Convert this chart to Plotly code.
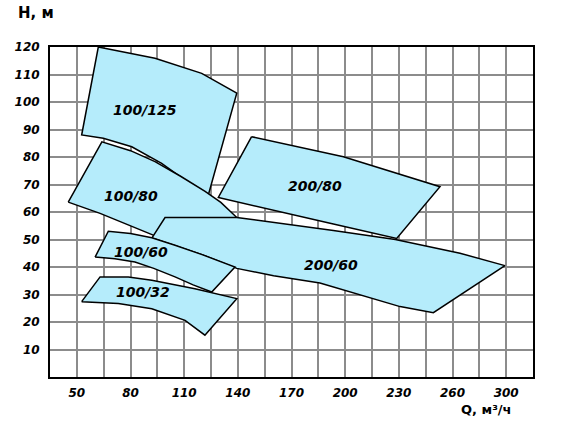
import plotly.graph_objects as go

# ---- data (Q in m3/h, H in m) ----
names = ["100/125", "100/80", "200/80", "200/60", "100/60", "100/32"]

q_100_125 = [62, 93.7, 119.8, 139.4, 123.5, 110.5, 97.4, 80.7, 64.8, 52.7]
h_100_125 = [120, 115.9, 110.4, 103.2, 66.2, 71.6, 77.7, 83.7, 86.8, 88.0]

q_100_80 = [45.2, 64, 80, 93.7, 108, 121.7, 130.5, 139.4, 142, 115, 92.7, 63.0]
h_100_80 = [63.6, 85.5, 82.3, 78.3, 73.0, 67.5, 63.5, 58.0, 57.0, 47.0, 51.6, 59.5]

q_200_80 = [147.7, 199, 253, 228.8, 193.4, 129.1]
h_200_80 = [87.4, 80.1, 69.2, 50.4, 55.6, 65.3]

q_200_60 = [92, 99.3, 139.4, 193.4, 228, 264.2, 289.3, 249.3, 230.7, 202.7, 185.9, 160, 139.4, 120, 104.9]
h_200_60 = [50.6, 58.0, 58.0, 53.3, 50.0, 45.0, 40.5, 23.4, 25.6, 31.0, 34.2, 36.8, 39.5, 44.5, 47.9]

q_100_60 = [60.2, 67.6, 80, 91.9, 104.9, 120, 138.4, 125.4, 115, 104.9, 93, 82.5, 71.3]
h_100_60 = [43.6, 53.0, 52.2, 50.6, 47.9, 44.5, 40.0, 30.9, 33.5, 36.4, 39.5, 41.8, 43.0]

q_100_32 = [52.7, 63.0, 78.8, 91.9, 116, 139.4, 121.6, 110.5, 91.9, 73.2]
h_100_32 = [27.4, 36.4, 36.4, 35.2, 32.1, 28.5, 15.2, 20.6, 24.8, 26.7]

label_q = [88, 80, 183, 192, 86, 87]
label_h = [97, 66, 69.5, 40.7, 45.5, 31]

x_tickvals = [50, 80, 110, 140, 170, 200, 230, 260, 290]
x_ticktext = ["50", "80", "110", "140", "170", "200", "230", "260", "300"]
y_tickvals = [10, 20, 30, 40, 50, 60, 70, 80, 90, 100, 110, 120]
y_ticktext = [str(v) for v in y_tickvals]

polys = [
    (q_100_125, h_100_125),
    (q_100_80, h_100_80),
    (q_200_80, h_200_80),
    (q_200_60, h_200_60),
    (q_100_60, h_100_60),
    (q_100_32, h_100_32),
]

FILL = "#b5ecfb"
FONT = "DejaVu Sans"

fig = go.Figure()
for (qs, hs), nm in zip(polys, names):
    fig.add_trace(go.Scatter(
        x=qs + [qs[0]], y=hs + [hs[0]], mode="lines", fill="toself",
        fillcolor=FILL, line=dict(color="black", width=1.5),
        name=nm, hoverinfo="skip", showlegend=False,
    ))

for nm, lq, lh in zip(names, label_q, label_h):
    fig.add_annotation(x=lq, y=lh, text=nm, showarrow=False,
                       font=dict(family=FONT, size=14, color="black",
                                 weight="bold", style="italic"))

fig.add_annotation(xref="paper", yref="paper", x=-0.07, y=1.07, xanchor="left",
                   yanchor="bottom", text="Н, м", showarrow=False,
                   font=dict(family=FONT, size=15, color="black", weight="bold"))
fig.add_annotation(xref="paper", yref="paper", x=0.96, y=-0.07, xanchor="right",
                   yanchor="top", text="Q, м³/ч", showarrow=False,
                   font=dict(family=FONT, size=13, color="black", weight="bold"))

tickfont = dict(family=FONT, size=12, color="black", weight="bold", style="italic")

fig.update_xaxes(range=[35, 305], tickvals=x_tickvals, ticktext=x_ticktext,
                 showgrid=True, gridcolor="#8c8c8c", gridwidth=1.5,
                 minor=dict(tick0=35, dtick=15, showgrid=True, gridcolor="#8c8c8c", gridwidth=1.5),
                 showline=True, linecolor="black", linewidth=2, mirror=True,
                 zeroline=False, ticks="", tickfont=tickfont, ticklabelstandoff=4,
                 automargin=False)
fig.update_yaxes(range=[0, 120], tickvals=y_tickvals, ticktext=y_ticktext,
                 showgrid=True, gridcolor="#8c8c8c", gridwidth=1.5,
                 showline=True, linecolor="black", linewidth=2, mirror=True,
                 zeroline=False, ticks="", tickfont=tickfont, ticklabelstandoff=6,
                 automargin=False)

fig.update_layout(width=566, height=440,
                  margin=dict(l=50, r=33, t=47, b=63, autoexpand=False),
                  plot_bgcolor="white", paper_bgcolor="white",
                  font=dict(family=FONT))

fig.write_html("out.html", config={"displayModeBar": False},
               post_script="document.body.style.margin='0';document.body.style.overflow='hidden';")
